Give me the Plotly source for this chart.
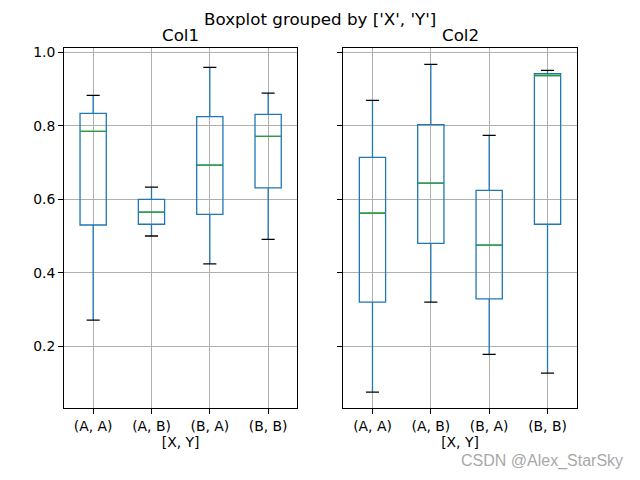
import plotly.graph_objects as go

categories = ["(A, A)", "(A, B)", "(B, A)", "(B, B)"]
positions = [1, 2, 3, 4]

col1_low = [0.271, 0.500, 0.424, 0.491]
col1_q1 = [0.530, 0.532, 0.559, 0.631]
col1_med = [0.785, 0.565, 0.693, 0.771]
col1_q3 = [0.834, 0.600, 0.825, 0.831]
col1_high = [0.883, 0.633, 0.959, 0.889]

col2_low = [0.075, 0.320, 0.178, 0.127]
col2_q1 = [0.320, 0.480, 0.329, 0.532]
col2_med = [0.562, 0.644, 0.475, 0.937]
col2_q3 = [0.714, 0.803, 0.624, 0.942]
col2_high = [0.869, 0.967, 0.774, 0.951]

BLUE = "#1f77b4"
GREEN = "#2ca02c"
BOX_W = 0.45
CAP_W = 0.225
FONT = "DejaVu Sans"
OFF = 8  # page body margin compensation (px)

fig = go.Figure()

def add_panel(xa, ya, low, q1, med, q3, high):
    for i, p in enumerate(positions):
        fig.add_trace(go.Box(
            x=[p], q1=[q1[i]], median=[med[i]], q3=[q3[i]],
            lowerfence=[low[i]], upperfence=[high[i]],
            width=BOX_W, whiskerwidth=0,
            line=dict(color=BLUE, width=1.3),
            fillcolor="rgba(0,0,0,0)",
            boxpoints=False, showlegend=False, hoverinfo="skip",
            xaxis=xa, yaxis=ya))
        fig.add_trace(go.Scatter(
            x=[p - BOX_W / 2, p + BOX_W / 2], y=[med[i], med[i]],
            mode="lines", line=dict(color=GREEN, width=1.3),
            showlegend=False, hoverinfo="skip", xaxis=xa, yaxis=ya))
        for v in (low[i], high[i]):
            fig.add_trace(go.Scatter(
                x=[p - CAP_W / 2, p + CAP_W / 2], y=[v, v],
                mode="lines", line=dict(color="black", width=1.3),
                showlegend=False, hoverinfo="skip", xaxis=xa, yaxis=ya))

add_panel("x", "y", col1_low, col1_q1, col1_med, col1_q3, col1_high)
add_panel("x2", "y2", col2_low, col2_q1, col2_med, col2_q3, col2_high)

def px_x(v):
    return (v - OFF) / 640

def px_y(v):
    return 1 - (v - OFF) / 480

ydom = [px_y(408.3), px_y(48.3)]
xdom1 = [px_x(64), px_x(297.3)]
xdom2 = [px_x(343.3), px_x(576.7)]

axis_common = dict(
    showline=True, linecolor="black", linewidth=1, mirror=True,
    showgrid=True, gridcolor="#b0b0b0", gridwidth=1,
    ticks="outside", ticklen=5, tickwidth=1, tickcolor="black",
    zeroline=False, automargin=False,
    tickfont=dict(family=FONT, size=13.9, color="black"),
)

xcommon = dict(axis_common, range=[0.5, 4.5], tickmode="array",
               tickvals=positions, ticktext=categories,
               title=dict(text="[X, Y]", font=dict(family=FONT, size=13.9, color="black"), standoff=3))
ycommon = dict(axis_common, range=[0.031, 1.011], tickmode="array",
               tickvals=[0.2, 0.4, 0.6, 0.8, 1.0], tickformat=".1f")

fig.update_layout(
    width=640, height=480,
    margin=dict(l=0, r=0, t=0, b=0),
    paper_bgcolor="white", plot_bgcolor="white",
    font=dict(family=FONT, color="black"),
    xaxis=dict(xcommon, domain=xdom1, anchor="y"),
    xaxis2=dict(xcommon, domain=xdom2, anchor="y2"),
    yaxis=dict(ycommon, domain=ydom, anchor="x"),
    yaxis2=dict(ycommon, domain=ydom, anchor="x2", showticklabels=False, matches="y"),
    annotations=[
        dict(text="Boxplot grouped by ['X', 'Y']", x=px_x(320), y=1.0,
             xref="paper", yref="paper", showarrow=False, borderpad=0,
             font=dict(family=FONT, size=16.7, color="black"), xanchor="center", yanchor="top"),
        dict(text="Col1", x=(xdom1[0] + xdom1[1]) / 2, y=px_y(35),
             xref="paper", yref="paper", showarrow=False,
             font=dict(family=FONT, size=16.7, color="black"), xanchor="center", yanchor="middle"),
        dict(text="Col2", x=(xdom2[0] + xdom2[1]) / 2, y=px_y(35),
             xref="paper", yref="paper", showarrow=False,
             font=dict(family=FONT, size=16.7, color="black"), xanchor="center", yanchor="middle"),
        dict(text="CSDN @Alex_StarSky", x=px_x(625), y=px_y(461),
             xref="paper", yref="paper", showarrow=False,
             font=dict(family="Liberation Sans", size=16, color="#a8a8a8"),
             xanchor="right", yanchor="middle"),
    ],
)

fig.write_html("out.html")
